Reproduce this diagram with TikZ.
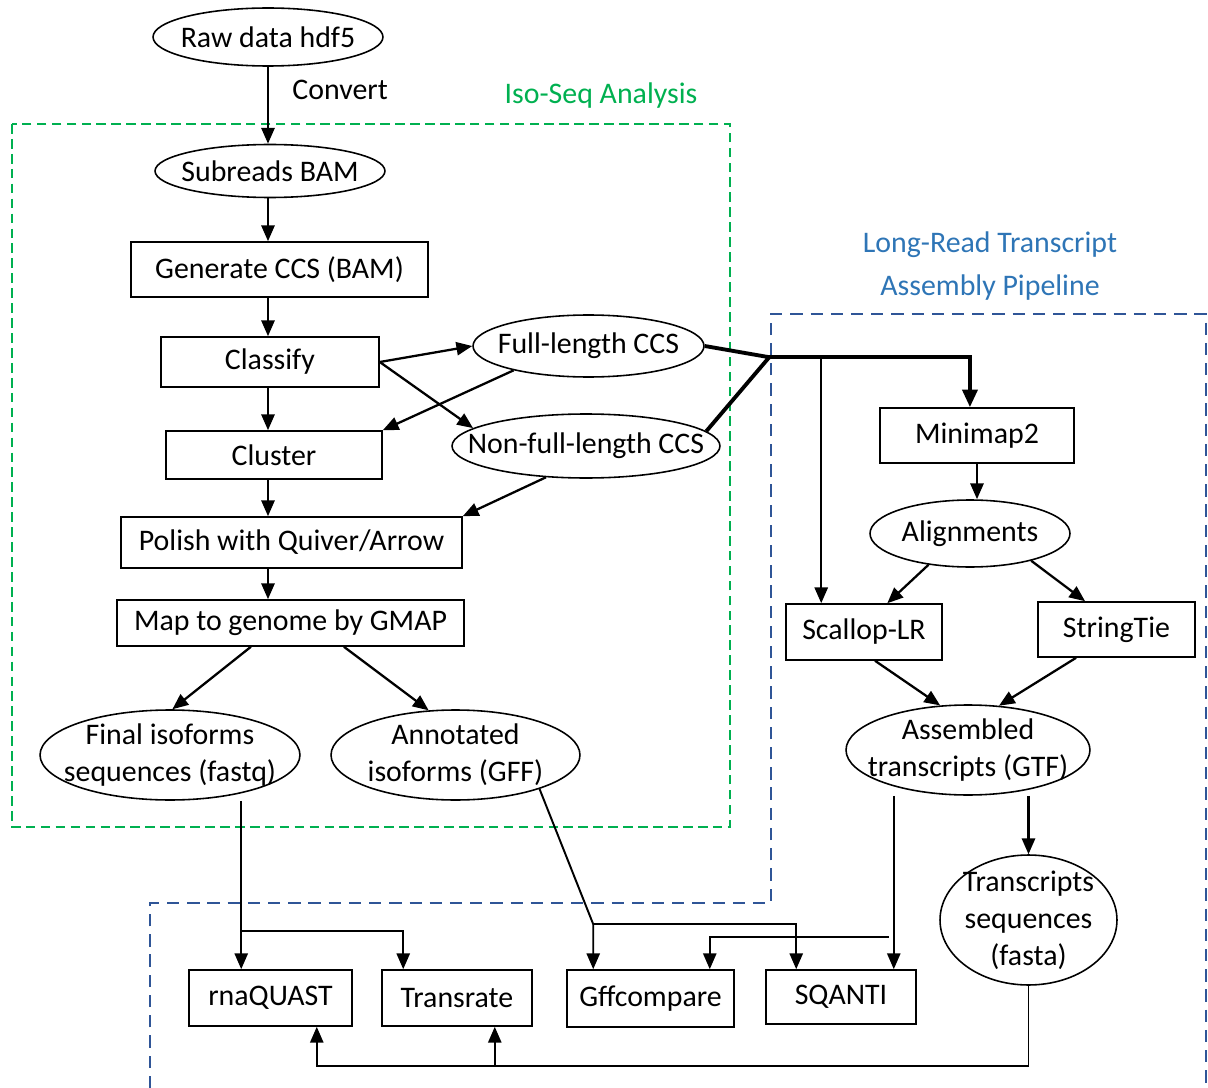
\documentclass[tikz,border=0pt]{standalone}
\usepackage{fontspec}
\setmainfont{Carlito}
\usetikzlibrary{shapes.geometric, arrows.meta, positioning, calc}
\definecolor{isogreen}{HTML}{00B050}
\definecolor{lrblue}{HTML}{2E75B6}
\definecolor{lrdash}{HTML}{2F5597}

\begin{document}
\begin{tikzpicture}[x=0.02cm, y=-0.02cm,
  every node/.style={font=\fontsize{17}{21}\selectfont},
  box/.style={draw, line width=0.9pt, inner sep=0pt},
  oval/.style={draw, ellipse, line width=0.9pt, inner sep=0pt},
  arrow/.style={-{Triangle[length=9pt,width=7.5pt]}, line width=1.3pt},
  thinarrow/.style={-{Triangle[length=9pt,width=7.5pt]}, line width=1.1pt},
  thickline/.style={line width=2.2pt}]
\useasboundingbox (0,0) rectangle (1208,1088);

\draw[isogreen, dash pattern=on 5.5pt off 3pt, line width=0.9pt] (12,124) rectangle (730,827);
\draw[lrdash, dash pattern=on 7pt off 4.5pt, line width=0.9pt] (150,1088) -- (150,903) -- (771,903) -- (771,314) -- (1206,314) -- (1206,1088);
\node[text=isogreen] (isotitle) at (601,96) {Iso-Seq Analysis};
\node[text=lrblue, align=center] (lrtitle) at (990,266) {Long-Read Transcript\\[3pt]Assembly Pipeline};

\node[oval, minimum width=4.6cm, minimum height=1.16cm, label=center:{Raw data hdf5}] (raw) at (268,37) {};
\node[oval, minimum width=4.6cm, minimum height=1.06cm, label=center:{Subreads BAM}] (subreads) at (270,171) {};
\node[box, minimum width=5.94cm, minimum height=1.1cm] (gen) at (279.5,269.5) {Generate CCS (BAM)};
\node[box, minimum width=4.36cm, minimum height=1.0cm] (classify) at (270,362) {Classify};
\node[oval, minimum width=4.62cm, minimum height=1.24cm, label=center:{Full-length CCS}] (fullccs) at (588.5,346) {};
\node[oval, minimum width=5.36cm, minimum height=1.28cm, label=center:{Non-full-length CCS}] (nonfull) at (586,446) {};
\node[box, minimum width=4.32cm, minimum height=0.96cm] (cluster) at (274,455) {Cluster};
\node[box, minimum width=6.82cm, minimum height=1.02cm] (polish) at (291.5,542.5) {Polish with Quiver/Arrow};
\node[box, minimum width=6.94cm, minimum height=0.92cm] (map) at (290.5,623) {Map to genome by GMAP};
\node[oval, minimum width=5.2cm, minimum height=1.8cm, label={[align=center]center:Final isoforms\\sequences (fastq)}] (final) at (170,755) {};
\node[oval, minimum width=4.98cm, minimum height=1.8cm, label={[align=center]center:Annotated\\isoforms (GFF)}] (annot) at (455.5,755) {};

\node[box, minimum width=3.88cm, minimum height=1.1cm] (minimap) at (977,435.5) {Minimap2};
\node[oval, minimum width=4.0cm, minimum height=1.34cm, label=center:{Alignments}] (align) at (970,533.5) {};
\node[box, minimum width=3.12cm, minimum height=1.12cm] (scallop) at (864,632) {Scallop-LR};
\node[box, minimum width=3.14cm, minimum height=1.1cm] (stringtie) at (1116.5,629.5) {StringTie};
\node[oval, minimum width=4.88cm, minimum height=1.8cm, label={[align=center]center:Assembled\\transcripts (GTF)}] (assembled) at (968,750) {};
\node[oval, minimum width=3.54cm, minimum height=2.6cm, label={[align=center]center:Transcripts\\sequences\\(fasta)}] (transcripts) at (1028.5,920) {};

\node[box, minimum width=3.26cm, minimum height=1.12cm] (rnaquast) at (270.5,998) {rnaQUAST};
\node[box, minimum width=3.0cm, minimum height=1.12cm] (transrate) at (457,998) {Transrate};
\node[box, minimum width=3.34cm, minimum height=1.14cm] (gffcompare) at (650.5,998.5) {Gffcompare};
\node[box, minimum width=3.0cm, minimum height=1.08cm] (sqanti) at (841,997) {SQANTI};

\draw[arrow] (raw.south) -- (raw.south |- subreads.north) node[pos=0.3, right=0.35cm] {Convert};
\draw[arrow] (subreads.south -| raw) -- (gen.north -| raw);
\draw[arrow] (gen.south -| raw) -- (classify.north -| raw);
\draw[arrow] (classify.south -| raw) -- (cluster.north -| raw);
\draw[arrow] (cluster.south -| raw) -- (polish.north -| raw);
\draw[arrow] (polish.south -| raw) -- (map.north -| raw);
\draw[arrow] (classify.east) -- (fullccs.west);
\draw[arrow] (classify.east) -- (nonfull.171);
\draw[arrow] (fullccs.198) -- (cluster.north east);
\draw[arrow] (nonfull.218) -- (polish.north east);
\draw[arrow] (map.211.5) -- (final.87);
\draw[arrow] (map.336) -- (annot.121);

\coordinate (jn) at ($(minimap.north west)+(-110,-50)$);
\draw[thickline] (fullccs.east) -- (jn) -- (nonfull.7);
\draw[thickline, -{Triangle[length=10pt,width=8.5pt]}] (jn) -| (minimap.104);
\coordinate (sc) at ($(scallop.north west)+(36,0)$);
\draw[arrow] (sc |- jn) -- (sc);
\draw[arrow] (minimap.south) -- (minimap.south |- align.north);
\draw[arrow] (align.217.5) -- (scallop.51.8);
\draw[arrow] (align.336) -- (stringtie.138);
\draw[arrow] (scallop.291.4) -- (assembled.122);
\draw[arrow] (stringtie.215) -- (assembled.55);
\draw[arrow] (transcripts.north |- assembled.south) -- (transcripts.north);

\coordinate (fq) at ($(rnaquast.north west)+(53,0)$);
\coordinate (tr) at ($(transrate.north west)+(22,0)$);
\draw[thinarrow] (final.south -| fq) -- (fq);
\draw[thinarrow] ($(fq)+(0,-38)$) -| (tr);
\coordinate (gc) at ($(gffcompare.north west)+(27,0)$);
\coordinate (sq) at ($(sqanti.north west)+(31,0)$);
\draw[thinarrow] (annot.338) -- ($(gc)+(0,-45)$) -- (gc);
\draw[thinarrow] ($(gc)+(0,-45)$) -| (sq);
\coordinate (sa) at ($(sqanti.north east)+(-23,0)$);
\coordinate (gr) at ($(gffcompare.north east)+(-25,0)$);
\draw[thinarrow] (sa |- assembled.south) -- (sa);
\draw[thinarrow] ($(sa)+(-5,-32)$) -| (gr);
\coordinate (rq) at ($(rnaquast.south east)+(-36,0)$);
\coordinate (ts) at ($(transrate.south east)+(-38,0)$);
\draw[thinarrow] (transcripts.south) -- ++(0,80) -| (rq);
\draw[thinarrow] ($(ts)+(0,39)$) -- (ts);
\end{tikzpicture}
\end{document}
